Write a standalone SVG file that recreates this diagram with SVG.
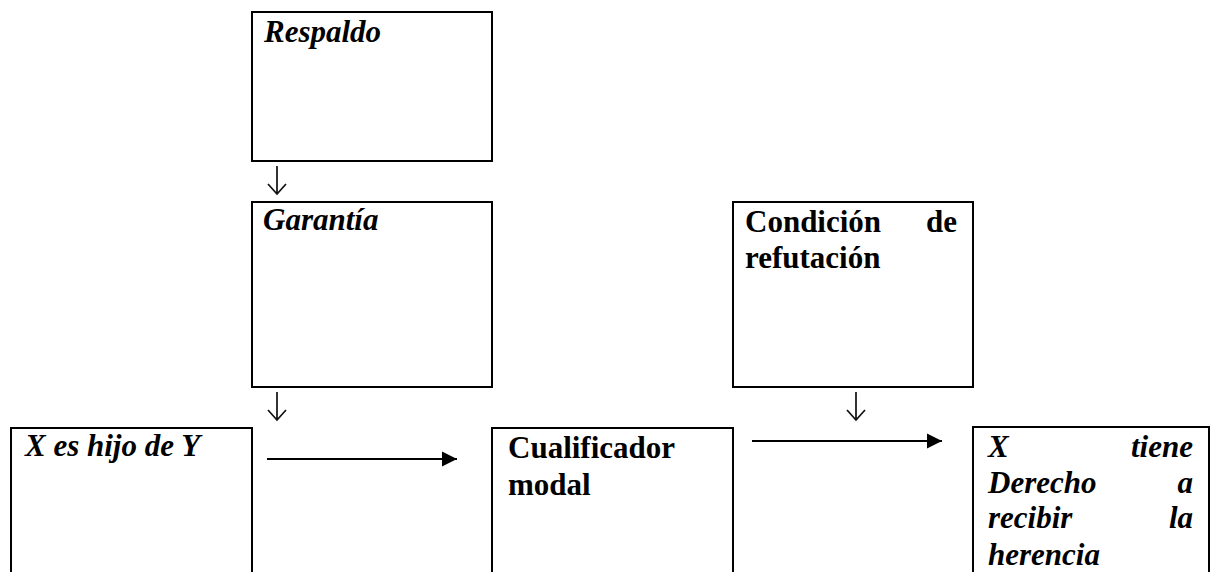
<svg xmlns="http://www.w3.org/2000/svg" width="1214" height="572" viewBox="0 0 1214 572">
<defs>
<style>
.box{fill:#fff;stroke:#000;stroke-width:2}
.t{font-family:"Liberation Serif","Times New Roman",serif;font-size:31px;font-weight:bold;fill:#000}
.i{font-style:italic}
.e{text-anchor:end}
.line{stroke:#000;stroke-width:2;fill:none}
.down{stroke:#111;stroke-width:1.7;fill:none}
</style>
<marker id="tri" markerUnits="userSpaceOnUse" markerWidth="16" markerHeight="16" viewBox="0 0 16 16" refX="15" refY="8" orient="auto">
<path d="M0,0.5 L15,8 L0,15.5 Z" fill="#000"/>
</marker>
</defs>
<rect width="1214" height="572" fill="#fff"/>
<g id="respaldo">
<rect class="box" x="252" y="12" width="240" height="149"/>
<text class="t i" x="264" y="42">Respaldo</text>
</g>
<g id="garantia">
<rect class="box" x="252" y="202" width="240" height="185"/>
<text class="t i" x="263" y="230">Garantía</text>
</g>
<g id="condicion">
<rect class="box" x="733" y="202" width="240" height="185"/>
<text class="t" x="745" y="232">Condición</text>
<text class="t e" x="957" y="232">de</text>
<text class="t" x="745" y="268">refutación</text>
</g>
<g id="hijo">
<rect class="box" x="11" y="428" width="241" height="160"/>
<text class="t i" x="25" y="456">X es hijo de Y</text>
</g>
<g id="cualificador">
<rect class="box" x="492" y="428" width="241" height="160"/>
<text class="t" x="508" y="458">Cualificador</text>
<text class="t" x="508" y="495">modal</text>
</g>
<g id="conclusion">
<rect class="box" x="973" y="427" width="236" height="160"/>
<text class="t i" x="988" y="457">X</text>
<text class="t i e" x="1193" y="457">tiene</text>
<text class="t i" x="988" y="493">Derecho</text>
<text class="t i e" x="1193" y="493">a</text>
<text class="t i" x="988" y="528">recibir</text>
<text class="t i e" x="1193" y="528">la</text>
<text class="t i" x="988" y="565">herencia</text>
</g>
<g id="connectors">
<path class="down" d="M277,166 V194 M268,184 L277,194 L286,184"/>
<path class="down" d="M277,392 V420 M268,410 L277,420 L286,410"/>
<path class="down" d="M856,392 V420 M847,410 L856,420 L865,410"/>
<line class="line" x1="267" y1="459" x2="457" y2="459" marker-end="url(#tri)"/>
<line class="line" x1="752" y1="441" x2="942" y2="441" marker-end="url(#tri)"/>
</g>
</svg>
